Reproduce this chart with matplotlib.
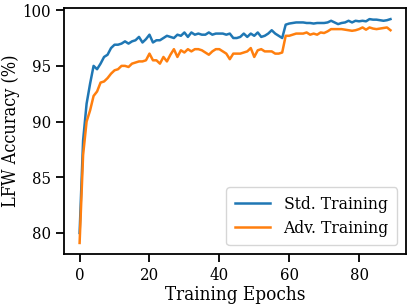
import matplotlib
matplotlib.use("Agg")
import matplotlib.pyplot as plt

epochs = list(range(90))

std_acc = [
    80.0, 88.3, 91.6, 93.4, 95.0, 94.7, 95.2, 95.8, 96.0, 96.6,
    96.9, 96.9, 97.0, 97.2, 97.0, 97.2, 97.3, 97.6, 97.1, 97.4,
    97.8, 97.1, 97.3, 97.3, 97.5, 97.7, 97.6, 97.5, 97.8, 97.7,
    98.0, 97.6, 98.0, 97.8, 97.9, 97.8, 97.8, 98.0, 97.8, 97.9,
    97.9, 97.9, 97.8, 97.9, 97.5, 97.5, 97.6, 97.9, 97.6, 97.9,
    97.7, 98.0, 97.6, 97.7, 97.9, 98.2, 97.9, 97.7, 97.5, 98.7,
    98.8, 98.85, 98.9, 98.9, 98.9, 98.85, 98.85, 98.8, 98.85, 98.85,
    98.85, 98.9, 99.05, 98.9, 98.75, 98.85, 98.9, 99.05, 98.9, 99.05,
    99.0, 99.05, 99.0, 99.2, 99.15, 99.15, 99.1, 99.05, 99.1, 99.2,
]

adv_acc = [
    79.1, 87.0, 90.0, 91.0, 92.3, 92.7, 93.5, 93.6, 93.9, 94.3,
    94.6, 94.7, 95.0, 95.0, 94.9, 95.2, 95.3, 95.4, 95.4, 95.5,
    96.1, 95.5, 95.5, 95.2, 95.8, 95.4, 96.0, 96.5, 95.8, 96.4,
    96.2, 96.5, 96.3, 96.5, 96.5, 96.4, 96.2, 96.0, 96.3, 96.5,
    96.5, 96.3, 96.1, 95.6, 96.1, 96.1, 96.1, 96.2, 96.3, 96.6,
    95.8, 96.4, 96.5, 96.3, 96.3, 96.3, 96.1, 96.1, 96.2, 97.7,
    97.7, 97.8, 97.9, 97.9, 97.9, 98.0, 97.8, 97.9, 97.8, 98.0,
    97.95, 98.1, 98.3, 98.3, 98.3, 98.3, 98.25, 98.2, 98.15, 98.2,
    98.3, 98.45, 98.25, 98.45, 98.35, 98.3, 98.35, 98.4, 98.45, 98.2,
]

plt.rcParams['font.family'] = ['DejaVu Serif']
plt.rcParams['font.stretch'] = 'condensed'

fig = plt.figure(figsize=(4.16, 3.04), dpi=100)
ax = fig.add_axes([0.154, 0.164, 0.822, 0.81])

ax.plot(epochs, std_acc, color='#1f77b4', lw=1.8, label='Std. Training')
ax.plot(epochs, adv_acc, color='#ff7f0e', lw=1.8, label='Adv. Training')

ax.set_xlabel('Training Epochs', fontsize=13.5, labelpad=1)
ax.set_ylabel('LFW Accuracy (%)', fontsize=13, labelpad=2)
ax.set_xticks([0, 20, 40, 60, 80])
ax.set_yticks([80, 85, 90, 95, 100])
ax.tick_params(labelsize=12, length=6, width=1.3)
for s in ax.spines.values():
    s.set_linewidth(1.3)

ax.legend(loc='lower right', fontsize=12.5, handlelength=2.0,
          borderpad=0.5, labelspacing=0.4, fancybox=True)

fig.savefig('out.png', dpi=100)
